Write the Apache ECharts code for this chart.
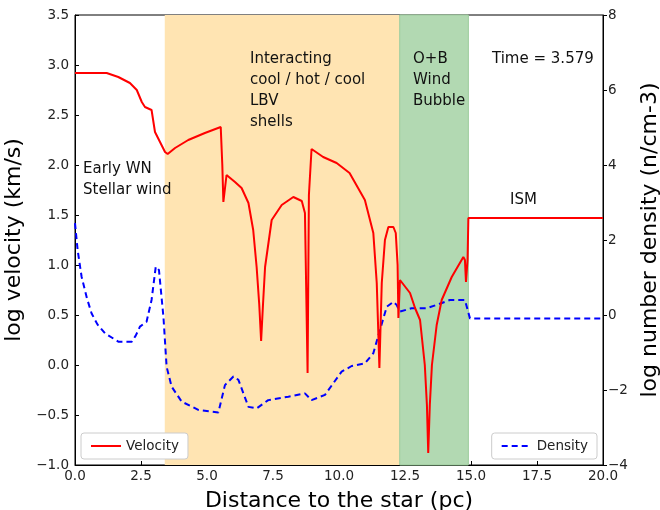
<!DOCTYPE html>
<html>
<head>
<meta charset="utf-8">
<script src="https://cdn.jsdelivr.net/npm/echarts@6/dist/echarts.min.js"></script>
<style>
  html, body { margin: 0; padding: 0; background: #fff; }
  #chart { width: 660px; height: 510px; }
</style>
</head>
<body>
<div id="chart"></div>
<script>
  // velocity profile (log km/s) vs distance (pc)
  var velX = [0, 1.2, 1.64, 2.08, 2.34, 2.53, 2.65, 2.9, 3.03, 3.22, 3.41, 3.51, 3.79, 4.29, 4.92, 5.52,
    5.58, 5.62, 5.74, 6.06, 6.31, 6.57, 6.75, 6.88, 6.98, 7.05, 7.12, 7.2, 7.45, 7.83, 8.27, 8.59,
    8.71, 8.81, 8.86, 8.96, 9.4, 9.91, 10.4, 10.98, 11.3, 11.43, 11.53, 11.62, 11.74, 11.87, 12.06,
    12.15, 12.22, 12.25, 12.31, 12.69, 12.88, 13.07, 13.25, 13.33, 13.38, 13.44,
    13.52, 13.7, 13.89, 14.27, 14.71, 14.77, 14.81, 14.87, 14.9, 20];
  var velY = [2.92, 2.92, 2.88, 2.82, 2.75, 2.63, 2.58, 2.55, 2.33, 2.23, 2.13, 2.11, 2.17, 2.25, 2.32, 2.38,
    2.0, 1.63, 1.9, 1.83, 1.77, 1.62, 1.35, 0.98, 0.6, 0.24, 0.6, 0.98, 1.45, 1.6, 1.68, 1.64,
    1.52, -0.08, 1.7, 2.16, 2.08, 2.02, 1.92, 1.65, 1.32, 0.82, -0.03, 0.82, 1.25, 1.38, 1.38,
    1.32, 1.0, 0.47, 0.85, 0.72, 0.57, 0.45, 0.0, -0.4, -0.88, -0.4,
    0.0, 0.4, 0.65, 0.88, 1.08, 1.05, 0.83, 1.05, 1.47, 1.47];

  // density profile (log n/cm-3) vs distance (pc)
  var denX = [0, 0.1, 0.25, 0.45, 0.63, 0.85, 1.14, 1.64, 2.15, 2.3, 2.46, 2.71, 2.9, 3.06, 3.18, 3.35, 3.47, 3.66,
    4.04, 4.67, 5.43, 5.68, 6.0, 6.19, 6.57, 6.88, 7.32, 8.08, 8.71, 8.96, 9.47, 10.1, 10.48, 10.98,
    11.3, 11.55, 11.81, 12.06, 12.18, 12.31, 12.75, 13.32, 13.7, 14.2, 14.77, 14.96, 20];
  var denY = [2.45, 1.73, 1.02, 0.45, 0.04, -0.25, -0.49, -0.71, -0.71, -0.55, -0.31, -0.18, 0.4, 1.29, 1.2, -0.05, -1.38, -1.91,
    -2.31, -2.53, -2.6, -1.87, -1.64, -1.73, -2.45, -2.49, -2.27, -2.18, -2.09, -2.27, -2.13, -1.51, -1.36, -1.29,
    -1.02, -0.4, 0.22, 0.35, 0.27, 0.09, 0.18, 0.18, 0.27, 0.4, 0.4, -0.09, -0.09];

  // shaded phases
  var lbvRange = [3.4, 12.3];
  var bubbleRange = [12.3, 14.9];
  var xTicks = [0, 20, 2.5];
  var velTicks = [-1, 3.5, 0.5];
  var denTicks = [-4, 8, 2];

  function pairs(xs, ys) {
    return xs.map(function (x, i) { return [x, ys[i]]; });
  }
  function minus(s) { return String(s).replace('-', '\u2212'); }

  var font = 'DejaVu Sans';
  var legendBase = {
    orient: 'vertical', top: 433,
    padding: [6, 9, 6, 9], itemWidth: 30, itemHeight: 8, itemGap: 0,
    borderColor: '#ccc', borderWidth: 1, borderRadius: 3, backgroundColor: '#fff',
    itemStyle: { opacity: 0 },
    textStyle: { fontSize: 13.5, color: '#222', fontFamily: font }
  };
  var chart = echarts.init(document.getElementById('chart'));
  chart.setOption({
    animation: false,
    textStyle: { fontFamily: font },
    grid: {
      left: 75, right: 57, top: 15, bottom: 45, containLabel: false, outerBoundsMode: 'none',
      show: true, borderColor: '#000', borderWidth: 1
    },
    legend: [
      Object.assign({ data: ['Velocity'], left: 81 }, legendBase),
      Object.assign({ data: ['Density'], right: 63 }, legendBase)
    ],
    xAxis: {
      type: 'value', min: xTicks[0], max: xTicks[1], interval: xTicks[2],
      name: 'Distance to the star (pc)', nameLocation: 'middle', nameGap: 25,
      nameTextStyle: { fontSize: 22, color: '#000', fontFamily: font },
      axisLine: { onZero: false, lineStyle: { color: '#000' } },
      axisTick: { inside: true, length: 4, lineStyle: { color: '#000' } },
      axisLabel: { fontSize: 13.5, color: '#222', margin: 4, formatter: function (v) { return v.toFixed(1); } },
      splitLine: { show: false }
    },
    yAxis: [
      {
        type: 'value', min: velTicks[0], max: velTicks[1], interval: velTicks[2],
        name: 'log velocity (km/s)', nameLocation: 'middle', nameGap: 42,
        nameTextStyle: { fontSize: 22, color: '#000', fontFamily: font },
        axisLine: { show: true, onZero: false, lineStyle: { color: '#000' } },
        axisTick: { show: true, inside: true, length: 4, lineStyle: { color: '#000' } },
        axisLabel: { fontSize: 13.5, color: '#222', margin: 6, formatter: function (v) { return minus(v.toFixed(1)); } },
        splitLine: { show: false }
      },
      {
        type: 'value', min: denTicks[0], max: denTicks[1], interval: denTicks[2], position: 'right',
        name: 'log number density (n/cm-3)', nameLocation: 'middle', nameGap: 31, nameRotate: 90,
        nameTextStyle: { fontSize: 22, color: '#000', fontFamily: font },
        axisLine: { show: true, onZero: false, lineStyle: { color: '#000' } },
        axisTick: { show: true, inside: false, length: 4, lineStyle: { color: '#000' } },
        axisLabel: { fontSize: 13.5, color: '#222', margin: 5, formatter: function (v) { return minus(v); } },
        splitLine: { show: false }
      }
    ],
    series: [
      {
        name: 'Velocity', type: 'line', yAxisIndex: 0, symbol: 'none', z: 3,
        lineStyle: { color: '#ff0000', width: 2 }, itemStyle: { color: '#ff0000' },
        data: pairs(velX, velY),
        markArea: {
          silent: true, z: 1,
          data: [
            [{ xAxis: lbvRange[0], itemStyle: { color: '#ffe4b2' } }, { xAxis: lbvRange[1] }],
            [{ xAxis: bubbleRange[0], itemStyle: { color: '#b2d9b2', borderColor: '#9ccc9c', borderWidth: 1 } }, { xAxis: bubbleRange[1] }]
          ]
        }
      },
      {
        name: 'Density', type: 'line', yAxisIndex: 1, symbol: 'none', z: 2,
        lineStyle: { color: '#0000ff', width: 2, type: [6, 4] }, itemStyle: { color: '#0000ff' },
        data: pairs(denX, denY)
      }
    ],
    graphic: [
      { type: 'text', z: 50, left: 83, top: 159, style: { text: 'Early WN\nStellar wind', font: '15px ' + font, lineHeight: 21, fill: '#111' } },
      { type: 'text', z: 50, left: 250, top: 49, style: { text: 'Interacting\ncool / hot / cool\nLBV\nshells', font: '15px ' + font, lineHeight: 21, fill: '#111' } },
      { type: 'text', z: 50, left: 413, top: 49, style: { text: 'O+B\nWind\nBubble', font: '15px ' + font, lineHeight: 21, fill: '#111' } },
      { type: 'text', z: 50, left: 492, top: 49, style: { text: 'Time = 3.579', font: '15px ' + font, lineHeight: 21, fill: '#111' } },
      { type: 'text', z: 50, left: 510, top: 190, style: { text: 'ISM', font: '15px ' + font, lineHeight: 21, fill: '#111' } }
    ]
  });
</script>
</body>
</html>
